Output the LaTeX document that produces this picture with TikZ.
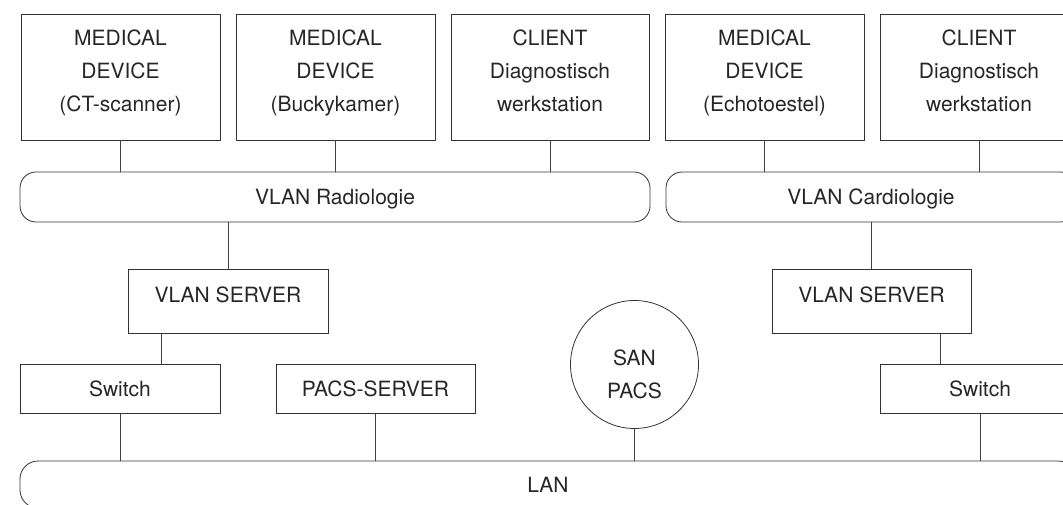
\documentclass[tikz,border=0pt]{standalone}
\usepackage{fontspec}
\setmainfont{TeX Gyre Heros}
\begin{document}
\begin{tikzpicture}[x=1pt,y=-1pt,
  every node/.style={font=\fontsize{21}{33}\selectfont, text=black!85},
  wire/.style={draw=black!75, line width=0.8pt},
  box/.style={draw=black!80, line width=0.8pt, rectangle, inner sep=0pt},
  devbox/.style={box, minimum height=126pt},
  srvbox/.style={box, minimum width=200pt, minimum height=64pt},
  smallbox/.style={box, minimum height=49pt, text height=15pt, text depth=0pt},
  bus/.style={draw=black!80, line width=0.8pt, rectangle, rounded corners=16pt,
    inner sep=0pt, minimum height=50pt, text height=15pt, text depth=0pt},
  store/.style={draw=black!80, line width=0.8pt, circle, inner sep=0pt, minimum size=128pt},
  txt/.style={align=center, inner sep=0pt}
]
\useasboundingbox (0,0) rectangle (1063,505);
\clip (0,0) rectangle (1063,505);

% devices and clients on the departmental VLANs
\node[devbox, minimum width=199pt] (ct) at (120.5,77)
  {}; \node[txt, yshift=4.3pt] at (ct.center) {MEDICAL\\DEVICE\\(CT-scanner)};
\node[devbox, minimum width=199pt] (bucky) at (335.5,77)
  {}; \node[txt, yshift=4.3pt] at (bucky.center) {MEDICAL\\DEVICE\\(Buckykamer)};
\node[devbox, minimum width=198pt] (clientA) at (550,77)
  {}; \node[txt, yshift=6.5pt] at (clientA.center) {CLIENT\\Diagnostisch\\werkstation};
\node[devbox, minimum width=199pt] (echo) at (764.5,77)
  {}; \node[txt, yshift=4.3pt] at (echo.center) {MEDICAL\\DEVICE\\(Echotoestel)};
\node[devbox, minimum width=198pt] (clientB) at (979,77)
  {}; \node[txt, yshift=6.5pt] at (clientB.center) {CLIENT\\Diagnostisch\\werkstation};

% VLAN segments
\node[bus, minimum width=630pt] (vrad) at (335,197) {VLAN Radiologie};
\node[bus, minimum width=410pt] (vcard) at (871,197) {VLAN Cardiologie};

% VLAN servers
\node[srvbox] (vsA) at (228,301) {}; \node[txt, yshift=6.5pt] at (vsA.center) {VLAN SERVER};
\node[srvbox, minimum width=199pt] (vsB) at (871.5,301) {}; \node[txt, yshift=6.5pt] at (vsB.center) {VLAN SERVER};

% switches, PACS server and storage
\node[smallbox, minimum width=200pt] (swA) at (120,388.5) {Switch};
\node[smallbox, minimum width=199pt] (pacs) at (375.5,388.5) {PACS-SERVER};
\node[smallbox, minimum width=200pt] (swB) at (980,388.5) {Switch};
\node[store] (san) at (634.5,364.5) {}; \node[txt, yshift=-9.5pt] at (san.center) {SAN\\PACS};

% backbone
\node[bus, rounded corners=18pt, minimum width=1056pt, minimum height=47pt] (lan) at (548,484.5) {LAN};

% connections
\foreach \n in {ct,bucky,clientA} \draw[wire] (\n.south) -- (\n.south |- vrad.north);
\foreach \n in {echo,clientB} \draw[wire] (\n.south) -- (\n.south |- vcard.north);
\draw[wire] (vrad.south -| vsA.north) -- (vsA.north);
\draw[wire] (vcard.south -| vsB.north) -- (vsB.north);
\draw[wire] ([xshift=-67pt]vsA.south) -- ([xshift=-67pt]vsA.south |- swA.north);
\draw[wire] ([xshift=68.5pt]vsB.south) -- ([xshift=68.5pt]vsB.south |- swB.north);
\foreach \n in {swA,pacs,san,swB} \draw[wire] (\n.south) -- (\n.south |- lan.north);
\end{tikzpicture}
\end{document}
